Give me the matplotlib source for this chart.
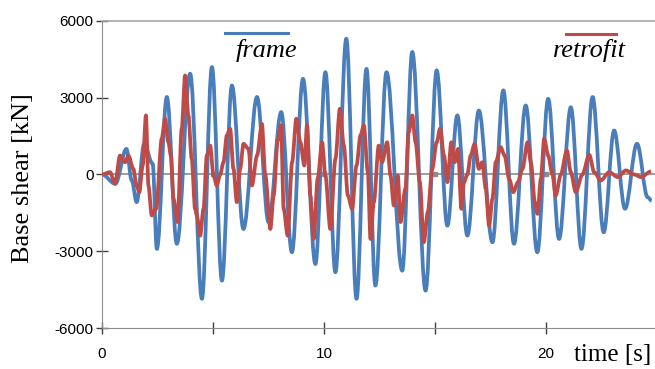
import numpy as np
import matplotlib
matplotlib.use("Agg")
import matplotlib.pyplot as plt
from matplotlib.lines import Line2D
from matplotlib.path import Path
from matplotlib.patches import PathPatch

plt.rcParams["axes.unicode_minus"] = False

# peaks and troughs of the base shear history [s], [kN]
frame_t = [0.0, 0.6, 1.1, 1.34, 1.56, 1.9, 2.28, 2.47, 2.92, 3.37, 3.97, 4.5, 4.95, 5.4,
           5.85, 6.37, 6.98, 7.5, 8.07, 8.55, 9.05, 9.61, 10.06, 10.51, 11.0, 11.46,
           11.91, 12.31, 12.81, 13.52, 13.97, 14.57, 15.07, 15.55, 16.0, 16.45, 16.97,
           17.58, 18.07, 18.55, 19.08, 19.6, 20.09, 20.58, 21.11, 21.59, 22.09, 22.59,
           23.06, 23.55, 24.09, 24.57, 24.75]
frame_v = [0, -360, 1000, -230, -1080, 1200, 420, -2910, 3030, -2710, 3940, -4860, 4200,
           -4150, 3480, -2130, 3030, -1860, 2440, -3040, 3740, -3500, 4000, -3820, 5310,
           -4860, 4130, -4340, 4000, -3760, 4790, -4540, 4070, -2000, 2310, -2390, 2500,
           -2650, 3290, -2710, 2700, -3040, 2960, -2520, 2630, -2910, 3030, -2260, 1720,
           -1340, 1200, -890, -1020]

retro_t = [0.0, 0.36, 0.59, 0.81, 1.04, 1.19, 1.41, 1.56, 1.68, 1.83, 1.98, 2.09, 2.24,
           2.44, 2.69, 2.84, 2.99, 3.1, 3.22, 3.4, 3.59, 3.74, 3.89, 4.04, 4.19, 4.27,
           4.42, 4.57, 4.72, 4.87, 5.02, 5.17, 5.32, 5.47, 5.62, 5.77, 5.92, 6.07, 6.22,
           6.37, 6.6, 6.75, 6.98, 7.2, 7.35, 7.58, 7.73, 7.91, 8.06, 8.18, 8.36, 8.56,
           8.75, 8.93, 9.11, 9.23, 9.38, 9.53, 9.71, 9.91, 10.06, 10.28, 10.51, 10.71,
           10.89, 11.07, 11.26, 11.46, 11.64, 11.79, 11.97, 12.09, 12.24, 12.46, 12.61,
           12.84, 12.99, 13.14, 13.32, 13.44, 13.66, 13.81, 13.97, 14.12, 14.31, 14.49,
           14.67, 14.87, 15.07, 15.22, 15.4, 15.55, 15.73, 15.88, 16.03, 16.18, 16.3,
           16.45, 16.6, 16.78, 16.97, 17.12, 17.28, 17.43, 17.58, 17.73, 17.95, 18.13,
           18.33, 18.52, 18.73, 18.93, 19.16, 19.31, 19.49, 19.61, 19.76, 19.91, 20.09,
           20.28, 20.43, 20.66, 20.93, 21.11, 21.33, 21.63, 21.94, 22.16, 22.46, 22.84,
           23.22, 23.59, 23.97, 24.27, 24.72]
retro_v = [0, 90, -365, 740, 480, 740, 220, -430, -690, 350, 2310, -430, -1600, -1340,
           1400, 2180, 1260, 740, -950, -1860, 1790, 3870, 2310, 610, -1340, -1600, -2390,
           -1340, 740, 1130, -40, -430, 0, 480, 1530, 1790, 220, -1080, 220, 1200, 1000,
           -430, 740, 1980, 0, -2130, -820, 1330, 1920, -1340, -2390, 480, 2180, 1260, 350,
           1920, -820, -2520, -170, 1260, -40, -2130, 610, 2570, 1130, -820, -1340, 350,
           1530, 1920, 90, -2520, -1080, 1130, 480, 1260, -40, -1210, -40, -1860, -560,
           1660, 2310, 1260, -300, -2650, -1470, 220, 1260, 1790, 740, -300, 1260, 480,
           1000, -1340, -300, 0, 740, 1200, 220, 480, -560, -2000, -950, 480, 1070, 740,
           -170, -690, -300, 220, 1260, 480, -1080, -1540, -170, 1400, 740, 0, -820, 0,
           940, 90, -690, 0, 770, 90, -230, 90, -100, 160, 0, -100, 120]

y_ticks = [-6000, -3000, 0, 3000, 6000]
x_ticks = [0, 5, 10, 15, 20]
x_labels = ["0", "", "10", "", "20"]

blue = "#4a7ebb"
red = "#be4b48"
grey = "#8c8c8c"
serif = ["Liberation Serif", "DejaVu Serif"]


def smooth_path(t, v, k=0.36):
    # bezier segments between turning points, flat tangent at each extremum
    verts = [(t[0], v[0])]
    codes = [Path.MOVETO]
    for i in range(len(t) - 1):
        dt = t[i + 1] - t[i]
        verts += [(t[i] + k * dt, v[i]), (t[i + 1] - k * dt, v[i + 1]), (t[i + 1], v[i + 1])]
        codes += [Path.CURVE4] * 3
    return Path(verts, codes)


fig = plt.figure(figsize=(6.55, 3.69), dpi=100)
ax = fig.add_axes([102 / 655, 1 - 328 / 369, 1 - 102 / 655, (328 - 21) / 369])

ax.axhline(0, color=grey, lw=1.2, zorder=1)
ax.plot(x_ticks[1:], np.zeros(len(x_ticks) - 1), ls="none", marker="s", ms=2.5,
        color=grey, zorder=1)

ax.add_patch(PathPatch(smooth_path(frame_t, frame_v), fill=False, edgecolor=blue,
                       lw=2.7, joinstyle="round", zorder=2))
ax.add_patch(PathPatch(smooth_path(retro_t, retro_v, k=0.3), fill=False, edgecolor=red,
                       lw=2.7, joinstyle="round", zorder=3))

ax.set_xlim(0, 24.9)
ax.set_ylim(-6000, 6000)
ax.set_yticks(y_ticks)
ax.set_xticks(x_ticks)
ax.set_xticklabels(x_labels)
ax.tick_params(direction="inout", length=8, width=1, color="#404040",
               labelsize=11, labelfontfamily="Liberation Sans")
ax.tick_params(axis="x", pad=10)
ax.tick_params(axis="y", pad=2)

ax.spines["right"].set_visible(False)
ax.spines["top"].set_color("#a6a6a6")
ax.spines["bottom"].set_color(grey)
ax.spines["left"].set_color(grey)
ax.spines["top"].set_linewidth(1.2)

fig.text(23 / 655, 1 - 178 / 369, "Base shear [kN]", family=serif, fontsize=19,
         rotation=90, ha="center", va="center")
fig.text(574 / 655, 1 - 355 / 369, "time [s]", family=serif, fontsize=18,
         ha="left", va="center")

# legend keys: short line above each italic label
fig.add_artist(Line2D([225 / 655, 288 / 655], [1 - 33 / 369] * 2, color=blue, lw=2.2))
fig.text(267 / 655, 1 - 50 / 369, "frame", family=serif, style="italic", fontsize=19,
         ha="center", va="center")
fig.add_artist(Line2D([566 / 655, 616 / 655], [1 - 34 / 369] * 2, color=red, lw=2.2))
fig.text(589 / 655, 1 - 50 / 369, "retrofit", family=serif, style="italic", fontsize=19,
         ha="center", va="center")

fig.savefig("out.png", dpi=100)
